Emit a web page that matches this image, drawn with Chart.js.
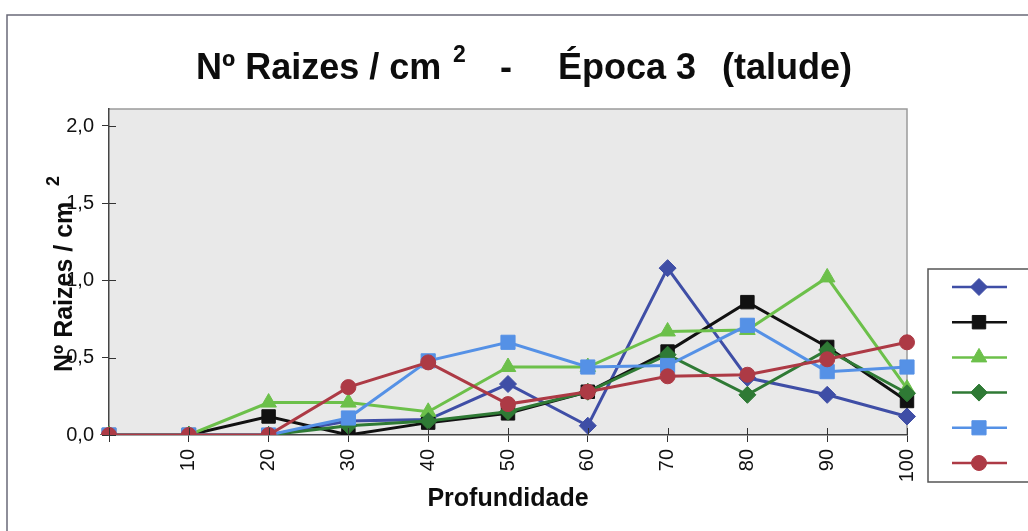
<!DOCTYPE html>
<html>
<head>
<meta charset="utf-8">
<script src="https://cdn.jsdelivr.net/npm/chart.js@4/dist/chart.umd.min.js"></script>
<style>
  html, body { margin: 0; padding: 0; background: #fff; }
  canvas { display: block; }
</style>
</head>
<body>
<canvas id="c" width="1028" height="531"></canvas>
<script>
// Depth classes (cm); the first class is left unlabelled on the axis
const categories = ['', '10', '20', '30', '40', '50', '60', '70', '80', '90', '100'];

// Root counts per cm² for each sampling series
const serie1 = [0, 0, 0, 0.09, 0.10, 0.33, 0.06, 1.08, 0.37, 0.26, 0.12];
const serie2 = [0, 0, 0.12, 0.00, 0.08, 0.14, 0.28, 0.54, 0.86, 0.57, 0.22];
const serie3 = [0, 0, 0.21, 0.21, 0.15, 0.44, 0.44, 0.67, 0.68, 1.02, 0.30];
const serie4 = [0, 0, 0, 0.06, 0.09, 0.15, 0.28, 0.52, 0.26, 0.55, 0.27];
const serie5 = [0, 0, 0, 0.11, 0.48, 0.60, 0.44, 0.45, 0.71, 0.41, 0.44];
const serie6 = [0, 0, 0, 0.31, 0.47, 0.20, 0.28, 0.38, 0.39, 0.49, 0.60];

const yTicks = [0, 0.5, 1.0, 1.5, 2.0];

const FONT = "'Liberation Sans', Arial, Helvetica, sans-serif";

const seriesDefs = [
  { label: 'Série 1', data: serie1, color: '#3f4ea6', style: 'rectRot',  r: 8.5 },
  { label: 'Série 2', data: serie2, color: '#111111', style: 'rect',     r: 9.5 },
  { label: 'Série 3', data: serie3, color: '#6cc04a', style: 'triangle', r: 9 },
  { label: 'Série 4', data: serie4, color: '#2f7a35', style: 'rectRot',  r: 8.5 },
  { label: 'Série 5', data: serie5, color: '#5591e6', style: 'rect',     r: 10 },
  { label: 'Série 6', data: serie6, color: '#ad3a45', style: 'circle',   r: 7.5 }
];

const datasets = seriesDefs.map((s, i) => ({
  label: s.label,
  data: s.data,
  borderColor: s.color,
  backgroundColor: s.color,
  pointBackgroundColor: s.color,
  pointBorderColor: s.color,
  pointStyle: s.style,
  pointRadius: s.r,
  pointBorderWidth: 1,
  borderWidth: 3,
  tension: 0,
  fill: false,
  order: seriesDefs.length - 1 - i
}));

// Plot background, frame, crossing tick marks, titles and legend box
const decorations = {
  id: 'decorations',
  beforeDraw(chart) {
    const { ctx, chartArea: a } = chart;
    ctx.save();
    // outer frame of the sheet
    ctx.strokeStyle = '#6a6a78';
    ctx.lineWidth = 1.5;
    ctx.beginPath();
    ctx.moveTo(7, 531);
    ctx.lineTo(7, 15);
    ctx.lineTo(1028, 15);
    ctx.stroke();
    // plot area fill
    ctx.fillStyle = '#e9e9e9';
    ctx.fillRect(a.left, a.top, a.right - a.left, a.bottom - a.top);
    // top and right edges of plot area
    ctx.strokeStyle = '#9a9a9a';
    ctx.lineWidth = 1.5;
    ctx.beginPath();
    ctx.moveTo(a.left, a.top);
    ctx.lineTo(a.right, a.top);
    ctx.lineTo(a.right, a.bottom);
    ctx.stroke();
    ctx.restore();
  },
  afterDatasetsDraw(chart) {
    const { ctx, chartArea: a, scales } = chart;
    ctx.save();
    // inner half of the crossing tick marks
    ctx.strokeStyle = '#333';
    ctx.lineWidth = 1;
    ctx.beginPath();
    yTicks.forEach(v => {
      const y = Math.round(scales.y.getPixelForValue(v)) + 0.5;
      ctx.moveTo(a.left, y);
      ctx.lineTo(a.left + 7, y);
    });
    categories.forEach((c, i) => {
      const x = Math.round(scales.x.getPixelForValue(i)) + 0.5;
      ctx.moveTo(x, a.bottom);
      ctx.lineTo(x, a.bottom - 7);
    });
    ctx.stroke();
    ctx.restore();
  },
  afterDraw(chart) {
    const { ctx } = chart;
    ctx.save();
    ctx.fillStyle = '#0d0d0d';
    ctx.textBaseline = 'alphabetic';

    // chart title
    ctx.textAlign = 'left';
    ctx.font = 'bold 36px ' + FONT;
    ctx.fillText('Nº Raizes / cm', 196, 79);
    ctx.font = 'bold 23px ' + FONT;
    ctx.fillText('2', 453, 62);
    ctx.font = 'bold 36px ' + FONT;
    ctx.textAlign = 'center';
    ctx.fillText('-', 506, 79);
    ctx.textAlign = 'left';
    ctx.fillText('Época 3', 558, 79);
    ctx.fillText('(talude)', 722, 79);

    // y axis title (rotated)
    ctx.save();
    ctx.translate(72, 372);
    ctx.rotate(-Math.PI / 2);
    ctx.textAlign = 'left';
    ctx.font = 'bold 25px ' + FONT;
    ctx.fillText('Nº Raizes / cm', 0, 0);
    ctx.font = 'bold 18px ' + FONT;
    ctx.fillText('2', 186, -13);
    ctx.restore();

    // x axis title
    ctx.textAlign = 'center';
    ctx.font = 'bold 25px ' + FONT;
    ctx.fillText('Profundidade', 508, 506);

    // legend box with line + marker samples
    ctx.strokeStyle = '#555';
    ctx.lineWidth = 1.5;
    ctx.strokeRect(928, 269, 120, 213);
    chart.data.datasets.forEach((ds, i) => {
      const cy = 287 + i * 35.2;
      ctx.strokeStyle = ds.borderColor;
      ctx.lineWidth = 2.5;
      ctx.beginPath();
      ctx.moveTo(952, cy);
      ctx.lineTo(1007, cy);
      ctx.stroke();
      ctx.fillStyle = ds.pointBackgroundColor;
      ctx.strokeStyle = ds.pointBorderColor;
      ctx.lineWidth = 1;
      Chart.helpers.drawPoint(ctx, {
        pointStyle: ds.pointStyle,
        radius: ds.pointRadius,
        borderWidth: 1,
        rotation: 0
      }, 979, cy);
    });
    ctx.restore();
  }
};

new Chart(document.getElementById('c'), {
  type: 'line',
  data: { labels: categories, datasets },
  options: {
    responsive: false,
    animation: false,
    devicePixelRatio: 1,
    layout: { padding: { left: 0, top: 109, right: 121, bottom: 0 } },
    plugins: {
      legend: { display: false },
      title: { display: false },
      tooltip: { enabled: false }
    },
    scales: {
      x: {
        type: 'category',
        offset: false,
        afterFit(s) { s.height = 96; },
        grid: { drawOnChartArea: false, drawTicks: true, tickLength: 7, color: '#333', lineWidth: 1 },
        border: { display: true, color: '#444', width: 1.5 },
        ticks: {
          autoSkip: false,
          minRotation: 90,
          maxRotation: 90,
          padding: 7,
          color: '#111',
          font: { family: FONT, size: 20 }
        }
      },
      y: {
        type: 'linear',
        min: 0,
        max: 2.11,
        afterFit(s) { s.width = 109; },
        afterBuildTicks(s) { s.ticks = yTicks.map(v => ({ value: v })); },
        grid: { drawOnChartArea: false, drawTicks: true, tickLength: 7, color: '#333', lineWidth: 1 },
        border: { display: true, color: '#444', width: 1.5 },
        ticks: {
          padding: 8,
          color: '#111',
          font: { family: FONT, size: 20 },
          callback: v => v.toFixed(1).replace('.', ',')
        }
      }
    }
  },
  plugins: [decorations]
});
</script>
</body>
</html>
